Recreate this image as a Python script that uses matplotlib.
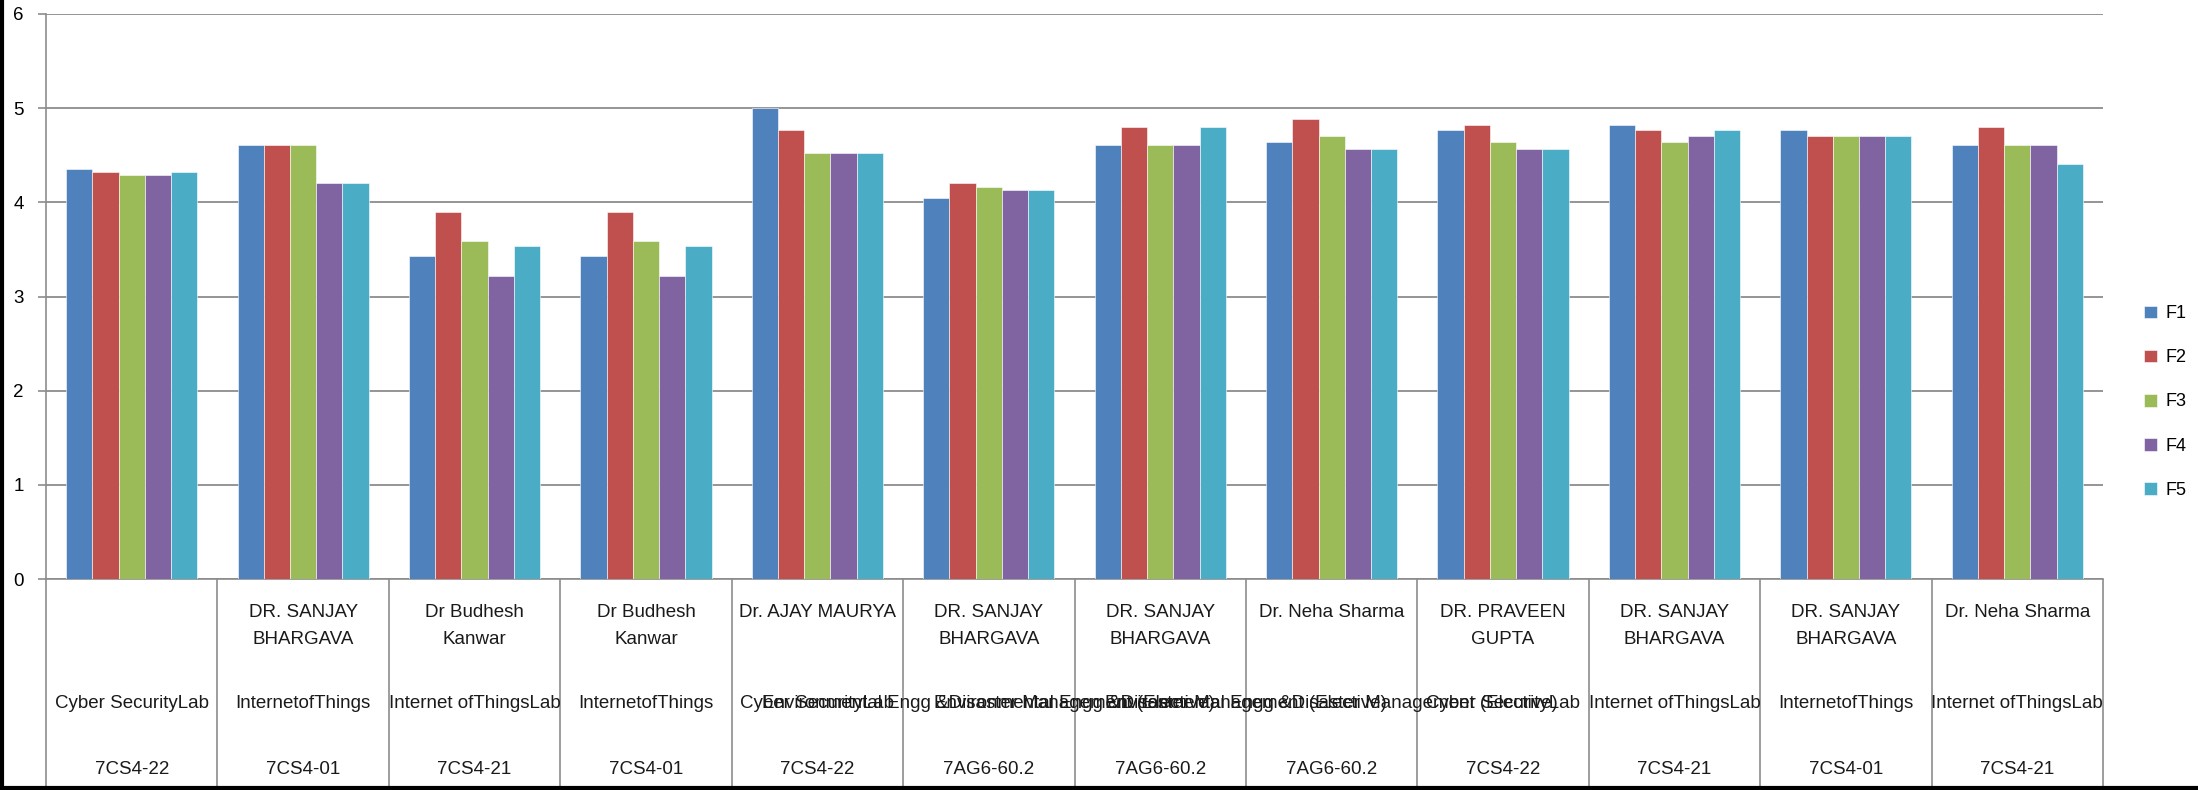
import matplotlib.pyplot as plt
import numpy as np
from matplotlib.lines import Line2D
from matplotlib.transforms import blended_transform_factory

names = ["", "DR. SANJAY\nBHARGAVA", "Dr Budhesh\nKanwar", "Dr Budhesh\nKanwar",
         "Dr. AJAY MAURYA", "DR. SANJAY\nBHARGAVA", "DR. SANJAY\nBHARGAVA",
         "Dr. Neha Sharma", "DR. PRAVEEN\nGUPTA", "DR. SANJAY\nBHARGAVA",
         "DR. SANJAY\nBHARGAVA", "Dr. Neha Sharma"]
courses = ["Cyber SecurityLab", "InternetofThings", "Internet ofThingsLab", "InternetofThings",
           "Cyber SecurityLab", "Environmental Engg &Disaster Management (Elective)",
           "Environmental Engg &Disaster Management (Elective)",
           "Environmental Engg &Disaster Management (Elective)",
           "Cyber SecurityLab", "Internet ofThingsLab", "InternetofThings", "Internet ofThingsLab"]
codes = ["7CS4-22", "7CS4-01", "7CS4-21", "7CS4-01", "7CS4-22", "7AG6-60.2", "7AG6-60.2",
         "7AG6-60.2", "7CS4-22", "7CS4-21", "7CS4-01", "7CS4-21"]

F1 = [4.35, 4.61, 3.43, 3.43, 5.00, 4.05, 4.61, 4.64, 4.77, 4.82, 4.77, 4.61]
F2 = [4.32, 4.61, 3.90, 3.90, 4.77, 4.21, 4.80, 4.89, 4.82, 4.77, 4.70, 4.80]
F3 = [4.29, 4.61, 3.59, 3.59, 4.52, 4.16, 4.61, 4.70, 4.64, 4.64, 4.70, 4.61]
F4 = [4.29, 4.21, 3.22, 3.22, 4.52, 4.13, 4.61, 4.57, 4.57, 4.70, 4.70, 4.61]
F5 = [4.32, 4.21, 3.54, 3.54, 4.52, 4.13, 4.80, 4.57, 4.57, 4.77, 4.70, 4.41]
series = [F1, F2, F3, F4, F5]
labels = ["F1", "F2", "F3", "F4", "F5"]
colors = ["#4F81BD", "#C0504D", "#9BBB59", "#8064A2", "#4BACC6"]

plt.rcParams['font.family'] = ['Liberation Sans', 'DejaVu Sans']

fig = plt.figure(figsize=(21.98, 7.90), dpi=100)
ax = fig.add_axes([46 / 2198, 1 - 579 / 790, (2103 - 46) / 2198, (579 - 14) / 790])

x = np.arange(len(codes))
w = 0.153
for j, vals in enumerate(series):
    ax.bar(x + (j - 2) * w, vals, w, color=colors[j], label=labels[j],
           edgecolor='white', linewidth=0.4, zorder=3)

ax.set_xlim(-0.5, 11.5)
ax.set_ylim(0, 6)
ax.set_yticks(range(7))
ax.yaxis.grid(True, color='#8c8c8c', linewidth=1.3, zorder=0)
ax.set_xticks([])
ax.set_xticks(np.arange(-0.5, 12, 1), minor=True)
ax.tick_params(axis='x', which='minor', length=151, color='#8c8c8c', width=1.2, direction='out')
ax.tick_params(axis='y', length=6, color='#8c8c8c', width=1.2, labelsize=13.5, pad=10)
for s in ['top', 'right']:
    ax.spines[s].set_visible(False)
for s in ['left', 'bottom']:
    ax.spines[s].set_color('#8c8c8c')
    ax.spines[s].set_linewidth(1.2)

# category table below the axis
tr = blended_transform_factory(ax.transData, fig.transFigure)
for i in range(len(codes)):
    ax.text(i, 1 - 604 / 790, names[i], transform=tr, ha='center', va='top',
            fontsize=13.5, linespacing=1.75, color='#1a1a1a', clip_on=False)
    ax.text(i, 1 - 703 / 790, courses[i], transform=tr, ha='center', va='center',
            fontsize=13.5, color='#1a1a1a', clip_on=False)
    ax.text(i, 1 - 770 / 790, codes[i], transform=tr, ha='center', va='center',
            fontsize=13.5, color='#1a1a1a', clip_on=False)

fig.legend(loc='center left', bbox_to_anchor=(2128 / 2198, 1 - 402 / 790), frameon=False,
           fontsize=13, handlelength=0.7, handleheight=0.7, handletextpad=0.5,
           labelspacing=1.5)

fig.add_artist(Line2D([0.0007, 0.0007], [0, 1], color='black', linewidth=3, transform=fig.transFigure))
fig.add_artist(Line2D([0, 1], [0.002, 0.002], color='black', linewidth=3, transform=fig.transFigure))

fig.savefig('out.png', dpi=100)
